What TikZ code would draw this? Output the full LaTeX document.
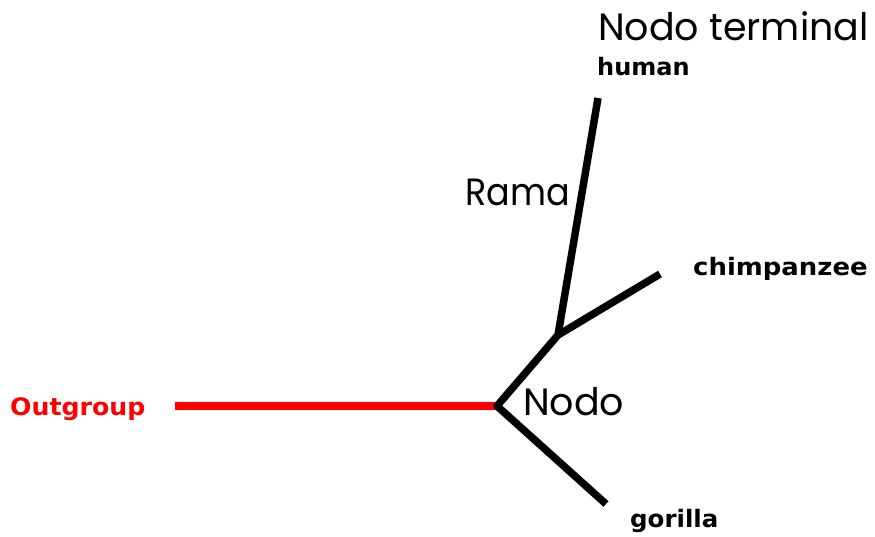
\documentclass[tikz,border=0pt]{standalone}
\usepackage{fontspec}
\newfontfamily\slidefont{Poppins}
\newfontfamily\tagfont{DejaVu Sans}
\definecolor{outred}{RGB}{255,0,0}
\begin{document}
\begin{tikzpicture}[x=1pt,y=-1pt,
  branch/.style={line width=7.5pt, black},
  outbranch/.style={line width=8pt, outred},
  slidetext/.style={anchor=base west, inner sep=0pt, font=\slidefont\fontsize{38}{40}\selectfont},
  taxon/.style={anchor=base west, inner sep=0pt, font=\tagfont\bfseries\fontsize{24}{26}\selectfont}]
\useasboundingbox (0,0) rectangle (875,536);

% tree vertices
\coordinate (root) at (497,406);
\coordinate (split) at (558,335);
\coordinate (humanTip) at (598,98);
\coordinate (chimpTip) at (660,274);
\coordinate (gorillaTip) at (606,504);
\coordinate (outTip) at (175,406);

% branches
\draw[outbranch] (outTip) -- (root);
\draw[branch, line join=round] (gorillaTip) -- (root) -- (split) -- (humanTip);
\draw[branch] (split) -- (chimpTip);

% taxon labels
\node[taxon] (human) at (597,75) {\scalebox{1.0}[1]{human}};
\node[taxon] (chimp) at (693,275) {\scalebox{1.08}[1]{chimpanzee}};
\node[taxon] (gorilla) at (630,527) {\scalebox{1.02}[1]{gorilla}};
\node[taxon, text=outred] (outgroup) at (10,415) {\scalebox{1.05}[1]{Outgroup}};

% annotations
\node[slidetext] (terminal) at (598,40) {Nodo terminal};
\node[slidetext] (rama) at (465,205) {\scalebox{0.92}[1]{Rama}};
\node[slidetext] (nodo) at (523,415) {Nodo};
\end{tikzpicture}
\end{document}
